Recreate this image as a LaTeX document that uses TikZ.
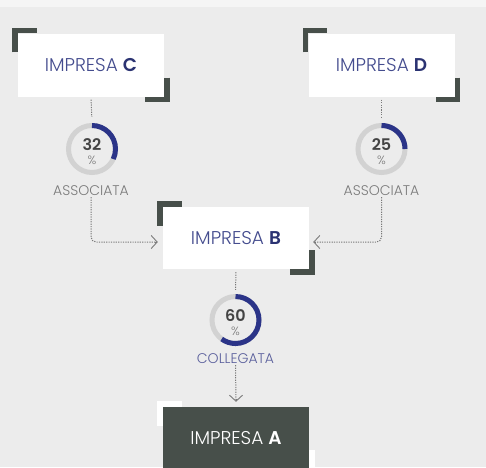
\documentclass[tikz,border=0pt]{standalone}
\usepackage{fontspec}
\setmainfont{Poppins}[UprightFont=* Light,BoldFont=* SemiBold]
\usetikzlibrary{arrows.meta}
\definecolor{bg}{HTML}{ECECEC}
\definecolor{bgtop}{HTML}{F5F5F5}
\definecolor{dark}{HTML}{474F4A}
\definecolor{navy}{HTML}{444C8E}
\definecolor{navyb}{HTML}{2B3372}
\definecolor{ringg}{HTML}{D2D2D2}
\definecolor{ringb}{HTML}{2B3488}
\definecolor{numc}{HTML}{444444}
\definecolor{labc}{HTML}{7A7A7A}
\definecolor{colc}{HTML}{5A5F9C}
\definecolor{linec}{HTML}{7A7A7A}
\begin{document}
\begin{tikzpicture}[x=1pt,y=1pt,
  box/.style={rectangle,fill=white,minimum width=146pt,minimum height=63pt,inner sep=0pt,
     font=\fontsize{18.5}{20}\selectfont,text=navy},
  boxA/.style={box,fill=dark,text=white,minimum height=62pt},
  brk/.style={line width=5.5pt,color=dark,line join=miter,line cap=butt},
  brkw/.style={brk,color=white},
  ring/.style={circle,minimum size=52pt,inner sep=0pt},
  rg/.style={line width=5pt,color=ringg},
  rb/.style={line width=5pt,color=ringb},
  num/.style={font=\fontsize{16}{18}\selectfont\bfseries,text=numc,inner sep=0pt},
  pct/.style={font=\fontsize{12}{13}\selectfont,text=labc,inner sep=0pt},
  lab/.style={font=\fontsize{14}{16}\selectfont,text=labc,inner sep=1pt},
  conn/.style={color=linec,line width=1pt,dash pattern=on 1.2pt off 1.2pt},
  tip/.style={-{Straight Barb[length=6pt,width=13pt,line width=0.9pt]},color=linec},
]
\useasboundingbox (0,0) rectangle (486,-467);
\fill[bg] (0,0) rectangle (486,-467);
\fill[bgtop] (0,0) rectangle (486,-7);

% boxes
\node[box] (C) at (91,-65) {IMPRESA \textbf{\color{navyb}C}};
\node[box] (D) at (381.5,-65) {IMPRESA \textbf{\color{navyb}D}};
\node[box,minimum height=62pt] (B) at (236,-238) {IMPRESA \textbf{\color{navyb}B}};
\node[boxA] (A) at (236,-438) {IMPRESA \textbf{A}};

% brackets
\foreach \n in {C,D,B}{
  \draw[brk] ([shift={(-2.75,-19)}]\n.north west) -- ([shift={(-2.75,2.75)}]\n.north west) -- ([shift={(19,2.75)}]\n.north west);
  \draw[brk] ([shift={(2.75,19)}]\n.south east) -- ([shift={(2.75,-2.75)}]\n.south east) -- ([shift={(-19,-2.75)}]\n.south east);
}
\draw[brkw] ([shift={(-2.75,-19)}]A.north west) -- ([shift={(-2.75,2.75)}]A.north west) -- ([shift={(19,2.75)}]A.north west);
\draw[brkw] ([shift={(2.75,19)}]A.south east) -- ([shift={(2.75,-2.75)}]A.south east) -- ([shift={(-19,-2.75)}]A.south east);

% rings
\node[ring] (cC) at (92,-149) {};
\node[ring] (cD) at (381.5,-149) {};
\node[ring] (cB) at (235.5,-320) {};
\foreach \n/\p in {cC/32,cD/25,cB/60}{
  \draw[rg] (\n.center) circle (23.5);
  \draw[rb] ([shift={(90:23.5)}]\n.center) arc[start angle=90,end angle={90-3.6*\p},radius=23.5];
  \node[num] at ([yshift=4]\n.center) {\p};
  \node[pct] at ([yshift=-11]\n.center) {\%};
}
\node[lab] (lC) at (91,-191) {ASSOCIATA};
\node[lab] (lD) at (381.5,-191) {ASSOCIATA};
\node[lab,text=colc] (lB) at (235.5,-359) {COLLEGATA};

% connectors
\draw[conn,shorten <=3pt,shorten >=6pt] (C.south) -- (cC.north);
\draw[conn,shorten <=3pt,shorten >=6pt] (D.south) -- (cD.north);
\draw[conn,shorten <=3pt,shorten >=4pt] (B.south) -- (cB.north);
\draw[conn,rounded corners=5pt] (lC.south) |- ([shift={(-6,-4)}]B.west);
\draw[tip] ([shift={(-8,-4)}]B.west) -- ([shift={(-5,-4)}]B.west);
\draw[conn,rounded corners=5pt] (lD.south) |- ([shift={(6,-4)}]B.east);
\draw[tip] ([shift={(7,-4)}]B.east) -- ([shift={(4,-4)}]B.east);
\draw[conn] (lB.south) -- ([yshift=6]A.north);
\draw[tip] ([yshift=8]A.north) -- ([yshift=5]A.north);
\end{tikzpicture}
\end{document}
